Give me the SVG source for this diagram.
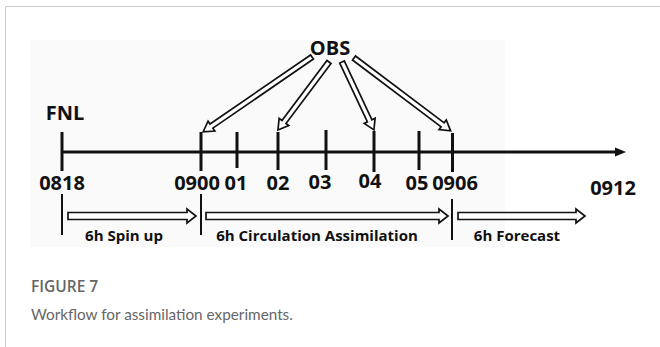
<svg xmlns="http://www.w3.org/2000/svg" width="660" height="347" viewBox="0 0 660 347">
<style>
.lbl{font-family:"Open Sans","Noto Sans",sans-serif;font-weight:bold;font-size:20px;fill:#111;text-anchor:middle}
.sm{font-family:"Open Sans","Noto Sans",sans-serif;font-weight:bold;font-size:15px;fill:#111;text-anchor:middle}
.tick{stroke:#111;stroke-width:3;fill:none}
.thin{stroke:#111;stroke-width:2;fill:none}
.hol{fill:#fff;stroke:#111;stroke-width:1.7;stroke-linejoin:miter}
.cap1{font-family:"Open Sans","Noto Sans",sans-serif;font-weight:600;font-size:15.5px;fill:#666}
.cap2{font-family:"Lato","Open Sans",sans-serif;font-size:15.3px;fill:#666}
</style>
<rect x="0" y="0" width="660" height="347" fill="#fff"/>
<path d="M5.5,347 V6.5 H660" fill="none" stroke="#ccc" stroke-width="1"/>
<rect x="30" y="40" width="475" height="207" fill="#fafafa"/>
<g id="connectors">
<line x1="62" y1="152" x2="616" y2="152" class="tick"/>
<polygon points="615,147.5 626,152 615,156.5" fill="#111"/>
<g class="hol">
<g transform="translate(312,57) rotate(145.5)"><polygon points="0,-2.5 122,-2.5 122,-6 132,0 122,6 122,2.5 0,2.5"/></g>
<g transform="translate(329,62) rotate(126.9)"><polygon points="0,-2.5 75,-2.5 75,-6 85,0 75,6 75,2.5 0,2.5"/></g>
<g transform="translate(342,62) rotate(64.8)"><polygon points="0,-2.5 65,-2.5 65,-6 75,0 65,6 65,2.5 0,2.5"/></g>
<g transform="translate(354,58) rotate(37)"><polygon points="0,-2.5 111,-2.5 111,-6 121,0 111,6 111,2.5 0,2.5"/></g>
<polygon points="68,212.5 187,212.5 187,209 196,216 187,223 187,219.5 68,219.5"/>
<polygon points="206,212.5 439,212.5 439,209 448,216 439,223 439,219.5 206,219.5"/>
<polygon points="458,212.5 576,212.5 576,209 585,216 576,223 576,219.5 458,219.5"/>
</g>
</g>
<g id="ticks">
<line x1="62" y1="132" x2="62" y2="171" class="tick"/>
<line x1="201" y1="132" x2="201" y2="171" class="tick"/>
<line x1="237" y1="132" x2="237" y2="168" class="tick"/>
<line x1="278" y1="132" x2="278" y2="170" class="tick"/>
<line x1="326" y1="130" x2="326" y2="170" class="tick"/>
<line x1="374" y1="131" x2="374" y2="172" class="tick"/>
<line x1="419" y1="131" x2="419" y2="170" class="tick"/>
<line x1="452.5" y1="133" x2="452.5" y2="172" class="tick"/>
<line x1="62" y1="194" x2="62" y2="235" class="thin"/>
<line x1="201" y1="194" x2="201" y2="235" class="thin"/>
<line x1="452" y1="199" x2="452" y2="240" class="thin"/>
</g>
<g id="node-obs"><text x="330" y="55" class="lbl">OBS</text></g>
<g id="node-fnl"><text x="65" y="120" class="lbl">FNL</text></g>
<g id="node-0818"><text x="62" y="190" class="lbl">0818</text></g>
<g id="node-0900"><text x="197" y="190" class="lbl">0900</text></g>
<g id="node-01"><text x="236" y="190" class="lbl">01</text></g>
<g id="node-02"><text x="278" y="190" class="lbl">02</text></g>
<g id="node-03"><text x="320" y="189" class="lbl">03</text></g>
<g id="node-04"><text x="370" y="188" class="lbl">04</text></g>
<g id="node-05"><text x="417" y="190" class="lbl">05</text></g>
<g id="node-0906"><text x="455" y="190" class="lbl">0906</text></g>
<g id="node-0912"><text x="613" y="195" class="lbl">0912</text></g>
<g id="node-spin"><text x="124" y="241" class="sm">6h Spin up</text></g>
<g id="node-circ"><text x="317" y="241" class="sm">6h Circulation Assimilation</text></g>
<g id="node-fc"><text x="517" y="241" class="sm">6h Forecast</text></g>
<g id="caption">
<text x="31" y="292" class="cap1">FIGURE 7</text>
<text x="31" y="320" class="cap2">Workflow for assimilation experiments.</text>
</g>
</svg>
